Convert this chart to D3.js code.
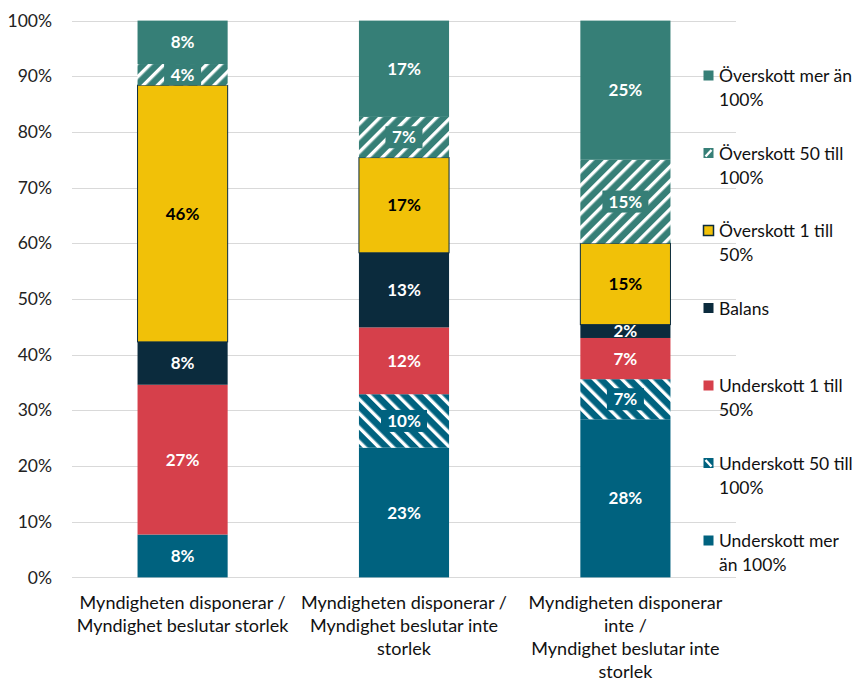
<!DOCTYPE html>
<html>
<head>
<meta charset="utf-8">
<script src="https://cdn.jsdelivr.net/npm/d3@7"></script>
<style>
  body { margin: 0; background: #fff; }
  svg { font-family: Lato, "Open Sans", sans-serif; }
</style>
</head>
<body>
<svg id="chart"></svg>
<script>
// categories (x axis), each one a list of text lines
let categories = [
    ["Myndigheten disponerar /", "Myndighet beslutar storlek"],
    ["Myndigheten disponerar /", "Myndighet beslutar inte", "storlek"],
    ["Myndigheten disponerar", "inte /", "Myndighet beslutar inte", "storlek"]
];

// series, bottom to top
let seriesNames = [
    "Underskott mer än 100%",
    "Underskott 50 till 100%",
    "Underskott 1 till 50%",
    "Balans",
    "Överskott 1 till 50%",
    "Överskott 50 till 100%",
    "Överskott mer än 100%"
];

// share in percent, one array per series (one value per category)
let underMer   = [7.7, 23.3, 28.4];
let under50    = [0,    9.6,  7.2];
let under1     = [26.9, 12.0, 7.4];
let balans     = [7.7, 13.4,  2.4];
let over1      = [46.1, 17.1, 14.6];
let over50     = [3.8,  7.3, 15.0];
let overMer    = [7.8, 17.3, 25.0];

let yTicks = [0, 10, 20, 30, 40, 50, 60, 70, 80, 90, 100];

let seriesValues = [underMer, under50, under1, balans, over1, over50, overMer];

let colors = ["#00627f", "#00627f", "#d6404b", "#0b2b3d", "#f1c108", "#367f77", "#367f77"];
let hatch  = [null, "back", null, null, null, "fwd", null];
let textColor = ["#fff", "#fff", "#fff", "#fff", "#000", "#fff", "#fff"];

let width = 864, height = 682;
let margin = {top: 21, right: 128, bottom: 105, left: 72};

let svg = d3.select("#chart")
    .attr("width", width)
    .attr("height", height);

let defs = svg.append("defs");
function makeHatch(id, color, dir) {
    let p = defs.append("pattern")
        .attr("id", id)
        .attr("patternUnits", "userSpaceOnUse")
        .attr("width", 10)
        .attr("height", 10)
        .attr("patternTransform", "rotate(" + (dir === "fwd" ? 45 : -45) + ")");
    p.append("rect").attr("width", 10).attr("height", 10).attr("fill", color);
    p.append("rect").attr("x", 0).attr("width", 3.4).attr("height", 10).attr("fill", "#fff");
}
makeHatch("hatchOver", "#367f77", "fwd");
makeHatch("hatchUnder", "#00627f", "back");

function fillFor(i) {
    if (hatch[i] === "fwd") return "url(#hatchOver)";
    if (hatch[i] === "back") return "url(#hatchUnder)";
    return colors[i];
}

let x = d3.scaleBand()
    .domain(categories.map((d, i) => i))
    .range([margin.left, width - margin.right])
    .paddingInner(0.593)
    .paddingOuter(0.296);

let y = d3.scaleLinear()
    .domain([0, 100])
    .range([height - margin.bottom + 0.4, margin.top - 0.4]);

// gridlines
svg.append("g")
    .selectAll("line")
    .data(yTicks)
    .join("line")
    .attr("x1", margin.left)
    .attr("x2", width - margin.right)
    .attr("y1", d => Math.round(y(d)) + 0.5)
    .attr("y2", d => Math.round(y(d)) + 0.5)
    .attr("stroke", "#d9d9d9")
    .attr("stroke-width", 1);

// y axis labels
let yAxis = d3.axisLeft(y)
    .tickValues(yTicks)
    .tickFormat(d => d + "%")
    .tickSize(0)
    .tickPadding(20);
let yg = svg.append("g")
    .attr("transform", "translate(" + margin.left + ",0)")
    .call(yAxis);
yg.select(".domain").remove();
yg.selectAll("text")
    .attr("font-family", "Lato, sans-serif")
    .attr("font-size", 17.5)
    .attr("fill", "#222");

// stacked data
let stackData = categories.map((c, ci) => {
    let obj = {cat: ci};
    seriesValues.forEach((s, si) => obj["s" + si] = s[ci]);
    return obj;
});
let stack = d3.stack().keys(seriesValues.map((s, si) => "s" + si));
let layers = stack(stackData);

let barsG = svg.append("g");
layers.forEach((layer, si) => {
    barsG.append("g")
        .selectAll("rect")
        .data(layer.filter(d => d[1] - d[0] > 0))
        .join("rect")
        .attr("x", d => x(d.data.cat))
        .attr("width", x.bandwidth())
        .attr("y", d => y(d[1]))
        .attr("height", d => y(d[0]) - y(d[1]))
        .attr("fill", fillFor(si))
        .attr("stroke", si === 4 ? "#0b2b3d" : "none")
        .attr("stroke-width", 1);
});

// data labels
layers.forEach((layer, si) => {
    let g = svg.append("g");
    layer.filter(d => d[1] - d[0] > 0).forEach(d => {
        let cx = x(d.data.cat) + x.bandwidth() / 2;
        let cy = (y(d[0]) + y(d[1])) / 2;
        let label = Math.round(seriesValues[si][d.data.cat]) + "%";
        if (hatch[si]) {
            let segH = y(d[0]) - y(d[1]);
            let bw = label.length > 2 ? 46 : 37;
            let bh = Math.min(segH, 22);
            g.append("rect")
                .attr("x", cx - bw / 2)
                .attr("y", cy - bh / 2)
                .attr("width", bw)
                .attr("height", bh)
                .attr("fill", colors[si]);
        }
        g.append("text")
            .attr("x", cx)
            .attr("y", cy)
            .attr("dy", "0.36em")
            .attr("text-anchor", "middle")
            .attr("font-size", 17)
            .attr("font-weight", "bold")
            .attr("fill", textColor[si])
            .text(label);
    });
});

// category labels
let catG = svg.append("g");
categories.forEach((lines, ci) => {
    let t = catG.append("text")
        .attr("x", x(ci) + x.bandwidth() / 2)
        .attr("y", height - margin.bottom + 32)
        .attr("text-anchor", "middle")
        .attr("font-size", 18)
        .attr("fill", "#111");
    lines.forEach((ln, li) => {
        t.append("tspan")
            .attr("x", x(ci) + x.bandwidth() / 2)
            .attr("dy", li === 0 ? 0 : 23)
            .text(ln);
    });
});

// legend, top to bottom
let legendLines = [
    ["Överskott mer än", "100%"],
    ["Överskott 50 till", "100%"],
    ["Överskott 1 till", "50%"],
    ["Balans"],
    ["Underskott 1 till", "50%"],
    ["Underskott 50 till", "100%"],
    ["Underskott mer", "än 100%"]
];
let legendG = svg.append("g").attr("transform", "translate(703, 0)");
legendLines.forEach((lines, k) => {
    let si = seriesNames.length - 1 - k;
    let ly = 76 + k * 77.5;
    legendG.append("rect")
        .attr("x", 0.5)
        .attr("y", ly - 5.5)
        .attr("width", 10)
        .attr("height", 10)
        .attr("fill", colors[si])
        .attr("stroke", si === 4 ? "#0b2b3d" : "none")
        .attr("stroke-width", 1.5);
    if (hatch[si]) {
        let fwd = hatch[si] === "fwd";
        legendG.append("line")
            .attr("x1", fwd ? 2.5 : 2.5)
            .attr("y1", fwd ? ly + 3 : ly - 3.5)
            .attr("x2", fwd ? 8.5 : 8.5)
            .attr("y2", fwd ? ly - 3.5 : ly + 3)
            .attr("stroke", "#fff")
            .attr("stroke-width", 2.4);
    }
    let t = legendG.append("text")
        .attr("x", 16)
        .attr("y", ly)
        .attr("font-size", 17.5)
        .attr("fill", "#111");
    lines.forEach((ln, li) => {
        t.append("tspan")
            .attr("x", 16)
            .attr("dy", li === 0 ? "0.36em" : 24)
            .text(ln);
    });
});
</script>
</body>
</html>
